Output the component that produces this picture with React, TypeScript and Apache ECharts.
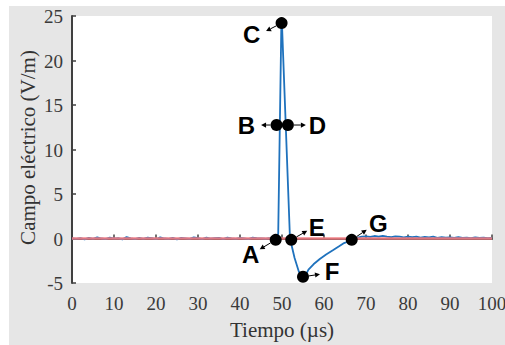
import React, { useEffect, useRef } from "react";
import * as echarts from "echarts";

// Time (µs) and electric field (V/m) of the measured waveform
const TIME: number[] = [
  0, 1, 2, 3, 4, 5, 6, 7, 8, 9, 10, 11, 12, 13, 14, 15, 16, 17, 18, 19,
  20, 21, 22, 23, 24, 25, 26, 27, 28, 29, 30, 31, 32, 33, 34, 35, 36, 37, 38, 39,
  40, 41, 42, 43, 44, 45, 46, 47, 48, 48.9, 49.1, 49.85, 50.0, 51.9, 53.0, 54.0,
  54.5, 55.0, 55.6, 56.3, 57.5, 59.0, 60.5, 62.2, 63.5, 64.6, 66.6, 67.5, 68, 69,
  70, 71, 72, 73, 74, 75, 76, 77, 78, 79, 80, 81, 82, 83, 84, 85, 86, 87, 88, 89,
  90, 91, 92, 93, 94, 95, 96, 97, 98, 99, 100,
];
const FIELD: number[] = [
  0.0, -0.05, 0.05, -0.1, 0.08, -0.05, 0.12, 0.0, -0.08, 0.1, -0.02, 0.05, -0.1, 0.15, 0.02, -0.06, 0.08, -0.04, 0.1, 0.05,
  -0.08, 0.12, 0.0, -0.05, 0.08, -0.1, 0.06, 0.02, -0.04, 0.12, 0.05, -0.06, 0.1, -0.02, 0.04, 0.08, -0.08, 0.1, 0.02, -0.05,
  0.06, 0.0, -0.06, 0.1, 0.04, 0.02, -0.03, 0.05, 0.02, 0.1, 0.6, 24.2, 24.0, 0.0, -2.2, -3.7,
  -4.1, -4.3, -4.15, -3.5, -2.9, -2.3, -1.8, -1.3, -0.9, -0.55, -0.2, 0.0, 0.1, 0.2,
  0.25, 0.18, 0.28, 0.2, 0.3, 0.22, 0.15, 0.25, 0.2, 0.12, 0.22, 0.15, 0.2, 0.1, 0.18, 0.12, 0.2, 0.08, 0.15, 0.1,
  0.12, 0.06, 0.14, 0.08, 0.1, 0.05, 0.12, 0.06, 0.1, 0.04, 0.08,
];

// Zero reference line
const REF_TIME: number[] = [0, 100];
const REF_FIELD: number[] = [0, 0];

// Marked points A–G
const POINT_NAMES: string[] = ["A", "B", "C", "D", "E", "F", "G"];
const POINT_TIME: number[] = [48.5, 48.7, 49.9, 51.4, 52.2, 55.0, 66.6];
const POINT_FIELD: number[] = [-0.15, 12.75, 24.2, 12.75, -0.15, -4.3, -0.15];

// Axis ticks and titles
const X_MIN = 0, X_MAX = 100, X_STEP = 10;
const Y_MIN = -5, Y_MAX = 25, Y_STEP = 5;
const X_TICKS: number[] = [0, 10, 20, 30, 40, 50, 60, 70, 80, 90, 100];
const Y_TICKS: number[] = [-5, 0, 5, 10, 15, 20, 25];
const X_TITLE = "Tiempo (µs)";
const Y_TITLE = "Campo eléctrico (V/m)";

// Annotation styling (pixel offsets of arrow tips and labels from each dot)
const ARROW_TIP: Record<string, [number, number]> = {
  A: [-16, 9.5], B: [-15.5, 0], C: [-15.5, 8], D: [18, 0], E: [16, -9], F: [17, -2.5], G: [15, -10],
};
const LABEL_OFF: Record<string, [number, number]> = {
  A: [-25, 15], B: [-30, 0], C: [-30, 11], D: [29.5, 0], E: [25.5, -12], F: [29, -5.5], G: [26.5, -16],
};

export default function App() {
  const ref = useRef<HTMLDivElement>(null);
  useEffect(() => {
    if (!ref.current) return;
    const chart = echarts.init(ref.current, null, { renderer: "svg" });
    const axisColor = "#404040";
    const option: any = {
      animation: false,
      backgroundColor: "transparent",
      grid: {
        left: 72, right: 13, top: 16, bottom: 62,
        show: true, backgroundColor: "#ffffff", borderWidth: 0,
      },
      xAxis: {
        type: "value", min: X_MIN, max: X_MAX, interval: X_STEP,
        axisLine: { show: true, lineStyle: { color: axisColor, width: 2 } },
        axisTick: { show: true, inside: true, length: 4, lineStyle: { color: axisColor, width: 1.5 } },
        axisLabel: { show: false },
        splitLine: { show: false },
      },
      yAxis: {
        type: "value", min: Y_MIN, max: Y_MAX, interval: Y_STEP,
        axisLine: { show: true, lineStyle: { color: axisColor, width: 2 } },
        axisTick: { show: true, inside: true, length: 4, lineStyle: { color: axisColor, width: 1.5 } },
        axisLabel: { show: false },
        splitLine: { show: false },
      },
      series: [
        {
          type: "line", data: TIME.map((t, i) => [t, FIELD[i]]),
          showSymbol: false, lineStyle: { color: "#1f72bd", width: 1.8 }, z: 2,
        },
        {
          type: "line", data: REF_TIME.map((t, i) => [t, REF_FIELD[i]]),
          showSymbol: false, lineStyle: { color: "#f07a80", width: 2.5, opacity: 0.9 }, z: 3,
        },
        {
          type: "scatter", data: POINT_TIME.map((t, i) => ({ name: POINT_NAMES[i], value: [t, POINT_FIELD[i]] })),
          symbol: "circle", symbolSize: 12, itemStyle: { color: "#000", opacity: 1 }, z: 5,
        },
      ],
    };
    chart.setOption(option);

    const graphics: any[] = [];
    const tickFont = "19px 'Liberation Serif', 'Times New Roman', serif";
    const titleFont = "21px 'Liberation Serif', 'Times New Roman', serif";
    X_TICKS.forEach((v) => {
      const p = chart.convertToPixel({ gridIndex: 0 }, [v, Y_MIN]) as number[];
      graphics.push({
        type: "text", x: p[0], y: p[1] + 20,
        style: { text: String(v), font: tickFont, fill: "#3a3a3a", textAlign: "center", textVerticalAlign: "middle" },
      });
    });
    Y_TICKS.forEach((v) => {
      const p = chart.convertToPixel({ gridIndex: 0 }, [X_MIN, v]) as number[];
      graphics.push({
        type: "text", x: p[0] - 9, y: p[1] + 0.5,
        style: { text: String(v), font: tickFont, fill: "#3a3a3a", textAlign: "right", textVerticalAlign: "middle" },
      });
    });
    const xMid = chart.convertToPixel({ gridIndex: 0 }, [(X_MIN + X_MAX) / 2, Y_MIN]) as number[];
    graphics.push({
      type: "text", x: xMid[0], y: xMid[1] + 47,
      style: { text: X_TITLE, font: titleFont, fill: "#333", textAlign: "center", textVerticalAlign: "middle" },
    });
    const yMid = chart.convertToPixel({ gridIndex: 0 }, [X_MIN, (Y_MIN + Y_MAX) / 2]) as number[];
    graphics.push({
      type: "text", x: 28, y: yMid[1] - 2, rotation: Math.PI / 2,
      style: { text: Y_TITLE, font: titleFont, fill: "#333", textAlign: "center", textVerticalAlign: "middle" },
    });
    POINT_NAMES.forEach((name, i) => {
      const p = chart.convertToPixel({ gridIndex: 0 }, [POINT_TIME[i], POINT_FIELD[i]]) as number[];
      const [tx, ty] = ARROW_TIP[name];
      const len = Math.hypot(tx, ty);
      const ux = tx / len, uy = ty / len;
      const nx = -uy, ny = ux;
      const tip = [p[0] + tx, p[1] + ty];
      const start = [p[0] + ux * 6, p[1] + uy * 6];
      const L = 5, W = 2.6;
      const base = [tip[0] - ux * L, tip[1] - uy * L];
      graphics.push({
        type: "line", z: 10,
        shape: { x1: start[0], y1: start[1], x2: base[0], y2: base[1] },
        style: { stroke: "#000", lineWidth: 1 },
      });
      graphics.push({
        type: "polygon", z: 10,
        shape: { points: [tip, [base[0] + nx * W, base[1] + ny * W], [base[0] - nx * W, base[1] - ny * W]] },
        style: { fill: "#000" },
      });
      const [lx, ly] = LABEL_OFF[name];
      graphics.push({
        type: "text", z: 10, x: p[0] + lx, y: p[1] + ly,
        style: {
          text: name, fill: "#000", font: "bold 24px 'Liberation Sans', Arial, sans-serif",
          textAlign: "center", textVerticalAlign: "middle",
        },
      });
    });
    chart.setOption({ graphic: graphics });

    return () => chart.dispose();
  }, []);

  return (
    <div style={{ position: "fixed", left: 0, top: 0, width: 505, height: 345, background: "#fff" }}>
      <div style={{ position: "absolute", left: 9, top: 6, width: 496, height: 339, background: "#e6e6e6" }} />
      <div ref={ref} style={{ position: "absolute", left: 0, top: 0, width: 505, height: 345 }} />
    </div>
  );
}
